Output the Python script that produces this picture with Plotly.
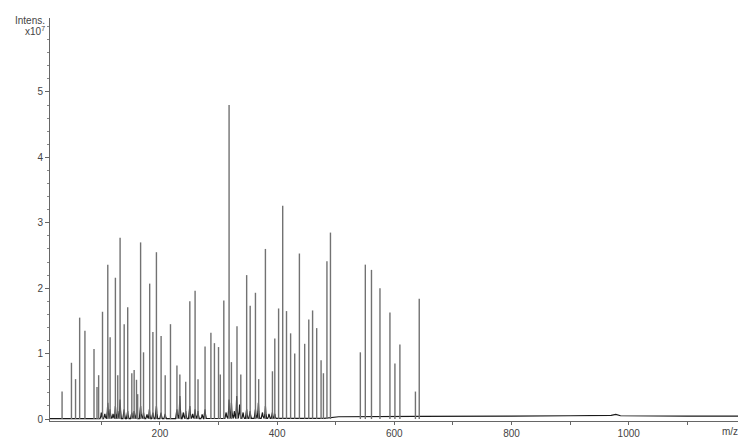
import plotly.graph_objects as go

# Centroid peaks (m/z, intensity in 1e7)
peak_mz = [33, 49, 56, 63, 72, 87.5, 92.6, 95.4, 102, 111, 115, 124, 128, 132, 139, 145,
           152, 156, 160, 162, 167, 172, 182.5, 188, 194, 202, 209, 218, 229, 234, 244,
           251, 260, 265, 277, 287, 293, 300, 303, 309, 318, 322, 331.5, 338, 348, 354,
           363, 368.5, 380, 392, 396, 402.5, 409.5, 416, 423, 430, 438, 447, 454, 460.5,
           467.5, 475, 479, 485, 491, 542, 550.5, 561, 575.5, 592.5, 601, 609.5, 636, 642.5]
peak_int = [0.42, 0.86, 0.61, 1.55, 1.35, 1.07, 0.49, 0.67, 1.64, 2.36, 1.25, 2.16, 0.67, 2.77, 1.45, 1.71,
            0.70, 0.75, 0.60, 0.38, 2.70, 1.02, 2.07, 1.33, 2.55, 1.27, 0.67, 1.45, 0.82, 0.68, 0.57,
            1.80, 1.96, 0.61, 1.11, 1.32, 1.16, 1.10, 0.68, 1.81, 4.80, 0.87, 1.42, 0.68, 2.20, 1.73,
            1.93, 0.61, 2.60, 0.73, 1.23, 1.69, 3.26, 1.65, 1.31, 1.00, 2.53, 1.15, 1.52, 1.66,
            1.39, 0.90, 0.70, 2.41, 2.85, 1.02, 2.36, 2.28, 2.00, 1.63, 0.85, 1.14, 0.42, 1.84]

# Profile baseline read-off points
base_mz = [12, 480, 495, 505, 640, 700, 800, 900, 970, 978, 986, 1100, 1195]
base_int = [0.005, 0.01, 0.02, 0.035, 0.04, 0.045, 0.045, 0.05, 0.055, 0.07, 0.05, 0.045, 0.045]

# Broad profile humps (dark trace) near the baseline
hump_mz = [100, 106, 111, 115, 120, 124, 128, 132, 139, 145, 152, 156, 160, 167, 172, 178, 182, 188, 194, 202, 209,
           229, 234, 240, 244, 251, 256, 260, 265, 272, 277,
           313, 318, 322, 327, 331, 336, 342, 348, 354, 363, 368, 375, 380, 386, 392, 396]
hump_int = [0.10, 0.08, 0.25, 0.15, 0.08, 0.20, 0.12, 0.30, 0.15, 0.12, 0.10, 0.12, 0.10, 0.20, 0.10, 0.07, 0.15, 0.10, 0.20, 0.10, 0.08,
            0.15, 0.35, 0.10, 0.12, 0.20, 0.08, 0.15, 0.12, 0.07, 0.15,
            0.10, 0.30, 0.25, 0.12, 0.35, 0.22, 0.10, 0.15, 0.12, 0.15, 0.25, 0.10, 0.20, 0.08, 0.10, 0.08]

x_tick_vals = [200, 400, 600, 800, 1000]
y_tick_vals = [0, 1, 2, 3, 4, 5]


def base_at(m):
    for i in range(len(base_mz) - 1):
        if base_mz[i] <= m <= base_mz[i + 1]:
            t = (m - base_mz[i]) / (base_mz[i + 1] - base_mz[i])
            return base_int[i] + t * (base_int[i + 1] - base_int[i])
    return base_int[-1]


# Build stick trace
sx, sy = [], []
for m, v in zip(peak_mz, peak_int):
    sx += [m, m, None]
    sy += [0, v, None]

# Build profile trace (baseline + humps)
pts = [(m, v) for m, v in zip(base_mz, base_int)]
for m, h in zip(hump_mz, hump_int):
    pts += [(m - 2.2, base_at(m - 2.2)), (m - 0.8, h * 0.45), (m, h), (m + 0.8, h * 0.45), (m + 2.2, base_at(m + 2.2))]
pts.sort()
px = [p[0] for p in pts]
py = [p[1] for p in pts]

fig = go.Figure()
fig.add_trace(go.Scatter(x=px, y=py, mode="lines", line=dict(color="#1a1a1a", width=1.2),
                         hoverinfo="skip", showlegend=False))
fig.add_trace(go.Scatter(x=sx, y=sy, mode="lines", line=dict(color="#727272", width=1.4),
                         hoverinfo="skip", showlegend=False))

font_c = "#444444"
fig.update_layout(
    width=746, height=441,
    margin=dict(l=42, r=11, t=10, b=21),
    paper_bgcolor="white", plot_bgcolor="white",
    font=dict(family="Liberation Sans, Arial, sans-serif", size=10, color=font_c),
    showlegend=False,
    xaxis=dict(range=[12.4, 1195], tickvals=x_tick_vals, ticktext=[str(v) for v in x_tick_vals],
               showgrid=False, zeroline=False, showline=True, linecolor="#666666", linewidth=1,
               ticks="outside", ticklen=3, tickcolor="#666666",
               minor=dict(dtick=100, tick0=0, ticks="outside", ticklen=3, tickcolor="#666666"),
               tickfont=dict(size=10, color=font_c)),
    yaxis=dict(range=[-0.03, 6.13], tickvals=y_tick_vals, ticktext=[str(v) for v in y_tick_vals],
               showgrid=False, zeroline=False, showline=True, linecolor="#666666", linewidth=1,
               ticks="outside", ticklen=4, tickcolor="#666666",
               minor=dict(dtick=0.2, tick0=0, ticks="outside", ticklen=2, tickcolor="#888888"),
               tickfont=dict(size=10, color=font_c)),
    annotations=[
        dict(text="Intens.", xref="paper", yref="paper", x=0, y=1, xanchor="right", yanchor="middle",
             xshift=-3, yshift=-2, showarrow=False, font=dict(size=10, color=font_c)),
        dict(text="x10<sup>7</sup>", xref="paper", yref="paper", x=0, y=1, xanchor="right", yanchor="middle",
             xshift=-3, yshift=-13, showarrow=False, font=dict(size=10, color=font_c)),
        dict(text="m/z", xref="paper", yref="paper", x=1, y=0, xanchor="right", yanchor="middle",
             xshift=-3, yshift=-10, showarrow=False, font=dict(size=10, color=font_c)),
    ],
)

fig.write_html("out.html")
